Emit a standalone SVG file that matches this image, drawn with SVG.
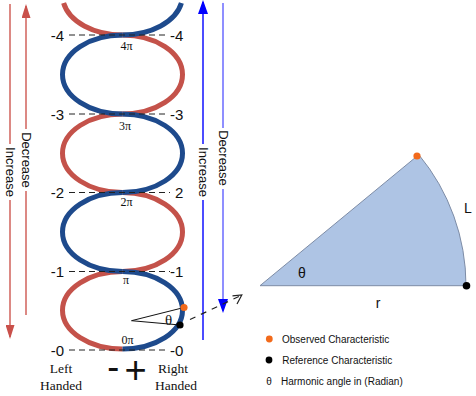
<svg xmlns="http://www.w3.org/2000/svg" width="476" height="396" viewBox="0 0 476 396">
<style>
.red{fill:none;stroke:#c4524a;stroke-width:5}
.blue{fill:none;stroke:#1e4a8c;stroke-width:5}
.dash{fill:none;stroke:#222;stroke-width:1;stroke-dasharray:6 4}
.lvl{font-family:"Liberation Sans",Arial,sans-serif;font-size:15px;fill:#111}
.pi{font-family:"Liberation Serif","Times New Roman",serif;font-size:12px;fill:#111;text-anchor:middle}
.hand{font-family:"Liberation Serif","Times New Roman",serif;font-size:13.5px;fill:#111;text-anchor:middle}
.side{font-family:"Liberation Sans",Arial,sans-serif;font-size:13px;fill:#111;text-anchor:middle;dominant-baseline:central}
.leg{font-family:"Liberation Sans",Arial,sans-serif;font-size:10px;fill:#111}
.lab{font-family:"Liberation Sans",Arial,sans-serif;font-size:14px;fill:#111}
.sign{font-family:"Liberation Sans",Arial,sans-serif;fill:#111}
.rl{stroke:#d0625b;stroke-width:1.5;fill:none}
.bl1{stroke:#1010ff;stroke-width:1.5;fill:none}
.bl2{stroke:#6a6aff;stroke-width:1.5;fill:none}
.thin{stroke:#111;stroke-width:1;fill:none}
</style>
<defs>
<marker id="ahRed" viewBox="0 0 14 9" refX="12" refY="4.5" markerWidth="14" markerHeight="9" markerUnits="userSpaceOnUse" orient="auto"><path d="M0,0 L14,4.5 L0,9 z" fill="#c9504a"/></marker>
<marker id="ahBlue" viewBox="0 0 14 10" refX="12" refY="5" markerWidth="14" markerHeight="10" markerUnits="userSpaceOnUse" orient="auto"><path d="M0,0 L14,5 L0,10 z" fill="#0000ff"/></marker>
</defs>
<rect width="476" height="396" fill="#ffffff"/>

<g id="helix">
  <path class="red" d="M63.6,3 A60,39.4 0 0 0 122.5,35"/>
  <path class="red" d="M122.5,35 A60,39.5 0 0 1 122.5,114"/>
  <path class="red" d="M122.5,114 A60,39.25 0 0 0 122.5,192.5"/>
  <path class="red" d="M122.5,192.5 A60,39.5 0 0 1 122.5,271.5"/>
  <path class="red" d="M122.5,271.5 A60,38.75 0 0 0 122.5,349"/>
  <path class="blue" d="M181.4,3 A60,39.4 0 0 1 122.5,35"/>
  <path class="blue" d="M122.5,35 A60,39.5 0 0 0 122.5,114"/>
  <path class="blue" d="M122.5,114 A60,39.25 0 0 1 122.5,192.5"/>
  <path class="blue" d="M122.5,192.5 A60,39.5 0 0 0 122.5,271.5"/>
  <path class="blue" d="M122.5,271.5 A60,38.75 0 0 1 122.5,349"/>
</g>

<g id="levels">
  <line class="dash" x1="69" y1="35" x2="168" y2="35"/>
  <line class="dash" x1="69" y1="114" x2="168" y2="114"/>
  <line class="dash" x1="69" y1="192.5" x2="170" y2="192.5"/>
  <line class="dash" x1="69" y1="271.5" x2="170" y2="271.5"/>
  <line class="dash" x1="69" y1="350" x2="168" y2="350"/>
  <text class="lvl" x="64" y="40.5" text-anchor="end">-4</text>
  <text class="lvl" x="64" y="119.5" text-anchor="end">-3</text>
  <text class="lvl" x="64" y="198" text-anchor="end">-2</text>
  <text class="lvl" x="64" y="277" text-anchor="end">-1</text>
  <text class="lvl" x="64" y="355.5" text-anchor="end">-0</text>
  <text class="lvl" x="170" y="40.5">-4</text>
  <text class="lvl" x="170" y="119.5">-3</text>
  <text class="lvl" x="175" y="198">2</text>
  <text class="lvl" x="170" y="277">-1</text>
  <text class="lvl" x="170" y="355.5">-0</text>
  <text class="pi" x="126.5" y="50">4π</text>
  <text class="pi" x="125" y="130">3π</text>
  <text class="pi" x="126.5" y="206">2π</text>
  <text class="pi" x="126" y="284">π</text>
  <text class="pi" x="127.5" y="344">0π</text>
</g>

<g id="handedness">
  <text class="hand" x="61" y="373">Left</text>
  <text class="hand" x="61" y="390">Handed</text>
  <text class="hand" x="173" y="373">Right</text>
  <text class="hand" x="176" y="390">Handed</text>
  <text class="sign" x="107.3" y="379" font-size="36">-</text>
  <text class="sign" x="124.5" y="382.5" font-size="38">+</text>
</g>

<g id="connectors">
  <line class="rl" x1="10" y1="4" x2="10" y2="144"/>
  <line class="rl" x1="10" y1="200" x2="10" y2="337" marker-end="url(#ahRed)"/>
  <line class="rl" x1="26" y1="315" x2="26" y2="191"/>
  <line class="rl" x1="26" y1="129" x2="26" y2="6" marker-end="url(#ahRed)"/>
  <line class="bl1" x1="203" y1="340" x2="203" y2="200"/>
  <line class="bl1" x1="203" y1="144" x2="203" y2="2" marker-end="url(#ahBlue)"/>
  <line class="bl2" x1="223" y1="3" x2="223" y2="128"/>
  <line class="bl2" x1="223" y1="189" x2="223" y2="311" marker-end="url(#ahBlue)"/>
  <line class="thin" x1="131.5" y1="320.7" x2="184" y2="307.5"/>
  <line class="thin" x1="131.5" y1="320.7" x2="180" y2="325"/>
  <line x1="190" y1="319.5" x2="241" y2="295.5" stroke="#222" stroke-width="1.2" stroke-dasharray="6 6"/>
  <polyline points="232.5,295.8 241.8,295 237,304" fill="none" stroke="#222" stroke-width="1.2"/>
</g>

<g id="side-labels">
  <text class="side" transform="translate(10,172) rotate(90)">Increase</text>
  <text class="side" transform="translate(26,160) rotate(90)">Decrease</text>
  <text class="side" transform="translate(203,172) rotate(90)">Increase</text>
  <text class="side" transform="translate(223,158) rotate(90)">Decrease</text>
</g>

<g id="angle-marker">
  <text x="168.5" y="325" font-family="'Liberation Serif','Times New Roman',serif" font-size="15" fill="#111" text-anchor="middle">θ</text>
  <circle cx="184" cy="307.5" r="3.6" fill="#f26a1b"/>
  <circle cx="180" cy="325" r="3.6" fill="#000"/>
</g>

<g id="sector">
  <path d="M260,285.7 L418.8,154.7 A206,206 0 0 1 466,285.7 Z" fill="#aec4e4" stroke="#7d8ca6" stroke-width="1"/>
  <text class="lab" x="302" y="278" text-anchor="middle">θ</text>
  <text class="lab" x="468" y="213" text-anchor="middle">L</text>
  <text class="lab" x="378" y="308" text-anchor="middle">r</text>
  <circle cx="417" cy="156" r="3.6" fill="#f26a1b"/>
  <circle cx="466.5" cy="285.7" r="3.8" fill="#000"/>
</g>

<g id="legend">
  <circle cx="269.3" cy="339" r="3.4" fill="#f26a1b"/>
  <text class="leg" x="282" y="342.5">Observed Characteristic</text>
  <circle cx="269" cy="360" r="3.4" fill="#000"/>
  <text class="leg" x="282.3" y="363.5">Reference Characteristic</text>
  <text class="leg" x="269" y="385" text-anchor="middle" font-size="11">θ</text>
  <text class="leg" x="281" y="384.5">Harmonic angle in (Radian)</text>
</g>
</svg>
